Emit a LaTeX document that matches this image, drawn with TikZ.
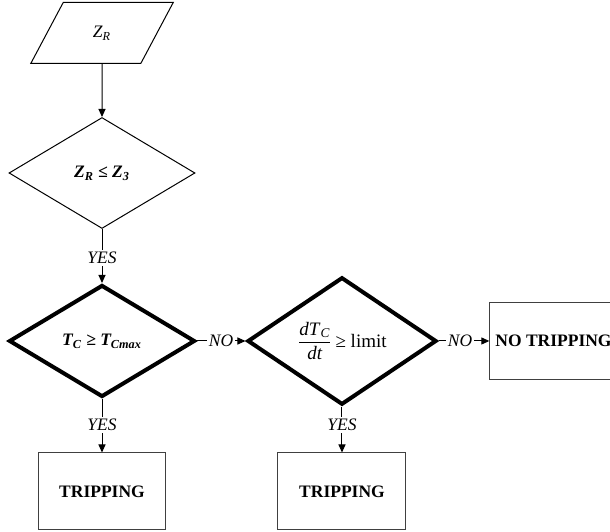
\documentclass[tikz,border=0pt]{standalone}
\usepackage{amsmath}
\usepackage{fontspec}
\setmainfont{Liberation Serif}
\usetikzlibrary{positioning}
\usetikzlibrary{shapes.geometric}
\usetikzlibrary{arrows.meta}

\begin{document}
\begin{tikzpicture}
		[x=0.6pt, y=-0.6pt, on grid, line width=0.6pt,
		 font=\fontsize{10.5}{12}\selectfont,
		 >={Triangle[length=4.8pt, width=4.2pt]},
		 input/.style={trapezium, trapezium left angle=62, trapezium right angle=118, draw, inner sep=0pt, minimum width=80.4pt, minimum height=36.6pt},
		 decision/.style={diamond, draw, inner sep=0pt, minimum width=111.6pt, minimum height=66.6pt},
		 strong decision/.style={decision, line width=2.4pt, minimum height=67.2pt},
		 result/.style={rectangle, draw=black!75, minimum width=76.8pt, minimum height=46.2pt, font=\fontsize{10.5}{12}\selectfont\bfseries},
		 answer/.style={inner sep=1pt, font=\fontsize{10.5}{12}\selectfont\itshape}]
		\useasboundingbox (0,0) rectangle (610,532);
		\node[input] (zr) at (102,33) {\textit{Z\textsubscript{R}}};
		\node[decision, below=84pt of zr] (d1) {\textbf{\textit{Z\textsubscript{R} ≤ Z\textsubscript{3}}}};
		\node[answer, below=51pt of d1] (yes1) {YES};
		\node[strong decision, below=49.8pt of yes1] (d2) {\textbf{\textit{T\textsubscript{C} ≥ T\textsubscript{Cmax}}}};
		\node[answer, right=71.4pt of d2] (no1) {NO};
		\node[strong decision, right=72.6pt of no1, minimum width=113.4pt, font=\fontsize{11.4}{13}\selectfont] (d3) {$\displaystyle\frac{\text{\textit{dT}\textsubscript{\textit{C}}}}{\text{\textit{dt}}}$\,≥ limit};
		\node[answer, right=70.8pt of d3] (no2) {NO};
		\node[result, right=56.1pt of no2, minimum width=76.2pt] (nt) {NO TRIPPING};
		\node[answer, below=50.4pt of d2] (yes2) {YES};
		\node[result, below=39.9pt of yes2] (t1) {TRIPPING};
		\node[answer, below=50.4pt of d3] (yes3) {YES};
		\node[result, below=39.9pt of yes3] (t2) {TRIPPING};

		\draw[->] (zr) to (d1);
		\draw (d1) to (yes1);
		\draw[->] (yes1) to (d2);
		\draw (d2) to (no1);
		\draw[->] (no1) to (d3);
		\draw (d3) to (no2);
		\draw[->] (no2) to (nt);
		\draw (d2) to (yes2);
		\draw[->] (yes2) to (t1);
		\draw (d3) to (yes3);
		\draw[->] (yes3) to (t2);
	\end{tikzpicture}
\end{document}
